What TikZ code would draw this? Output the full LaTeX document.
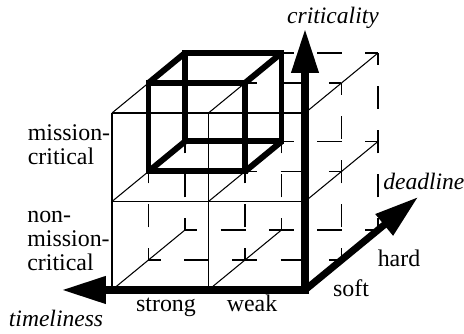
\documentclass[tikz,border=0pt]{standalone}
\usepackage{fontspec}
\setmainfont{Liberation Serif}
\usetikzlibrary{arrows.meta,positioning}

\begin{document}
\begin{tikzpicture}[x={(1.93cm,0cm)},y={(0cm,1.77cm)},z={(0.73cm,0.60cm)},
  txt/.style={font=\fontsize{13.6}{13.8}\selectfont,inner sep=0pt},
  axislbl/.style={font=\fontsize{13.4}{13.8}\selectfont\itshape,inner sep=0pt},
  front/.style={line width=1pt},
  depthline/.style={line width=0.6pt},
  hiddenh/.style={line width=1.1pt,dash pattern=on 0.5cm off 0.465cm,dash phase=0.25cm},
  hiddenv/.style={line width=1.1pt,dash pattern=on 0.46cm off 0.42cm,dash phase=0.23cm},
  cubeedge/.style={line width=3.4pt},
  axisline/.style={line width=4pt},
  axistip/.tip={Triangle[length=0.88cm,width=0.52cm]}]
  \useasboundingbox (-2.24cm,-0.88cm) rectangle (7.04cm,5.80cm);
  % hidden grid at depth 1 and 2, one cell edge at a time
  \foreach \z in {1,2} {
    \foreach \i in {0,1,2} {
      \foreach \j in {0,1} {
        \draw[hiddenv] (\i,\j,\z) -- (\i,\j+1,\z);
        \draw[hiddenh] (\j,\i,\z) -- (\j+1,\i,\z);
      }
    }
  }
  % depth lines
  \foreach \i in {0,1,2} {
    \foreach \j in {0,1,2} {
      \draw[depthline] (\i,\j,0) -- (\i,\j,2);
    }
  }
  % front face
  \foreach \i in {0,1} {
    \draw[front] (\i,0,0) -- (\i,2,0);
  }
  \foreach \j in {1,2} {
    \draw[front] (0,\j,0) -- (2,\j,0);
  }
  % highlighted cell
  \draw[cubeedge] (0,1,1) -- (1,1,1) -- (1,2,1) -- (0,2,1) -- cycle;
  \draw[cubeedge] (0,1,2) -- (1,1,2) -- (1,2,2) -- (0,2,2) -- cycle;
  \foreach \i in {0,1} {
    \foreach \j in {1,2} {
      \draw[cubeedge] (\i,\j,1) -- (\i,\j,2);
    }
  }
  % axes
  \coordinate (O) at (2,0,0);
  \coordinate (crit) at (2,2.95,0);
  \coordinate (time) at (-0.52,0,0);
  \coordinate (dead) at (2,0,3.1);
  \draw[axisline,axistip-axistip] (time) -- (O) -- (crit);
  \draw[axisline,-axistip] (O) -- (dead);
  % axis labels
  \node[axislbl,anchor=base] (critlbl) at (4.42cm,5.32cm) {criticality};
  \node[axislbl,anchor=base west] (deadlbl) at (5.42cm,2.0cm) {deadline};
  \node[axislbl,anchor=base] (timelbl) at (-1.12cm,-0.74cm) {timeliness};
  % value labels
  \node[txt,anchor=base] (strong) at (1.08cm,-0.44cm) {strong};
  \node[txt,anchor=base] (weak) at (2.80cm,-0.44cm) {weak};
  \node[txt,anchor=base] (soft) at (4.78cm,-0.14cm) {soft};
  \node[txt,anchor=base] (hard) at (5.74cm,0.46cm) {hard};
  \node[txt,anchor=west,align=left] (mc) at (-1.69cm,2.90cm) {mission-\\critical};
  \node[txt,anchor=west,align=left] (nmc) at (-1.70cm,0.98cm) {non-\\mission-\\critical};
\end{tikzpicture}
\end{document}
